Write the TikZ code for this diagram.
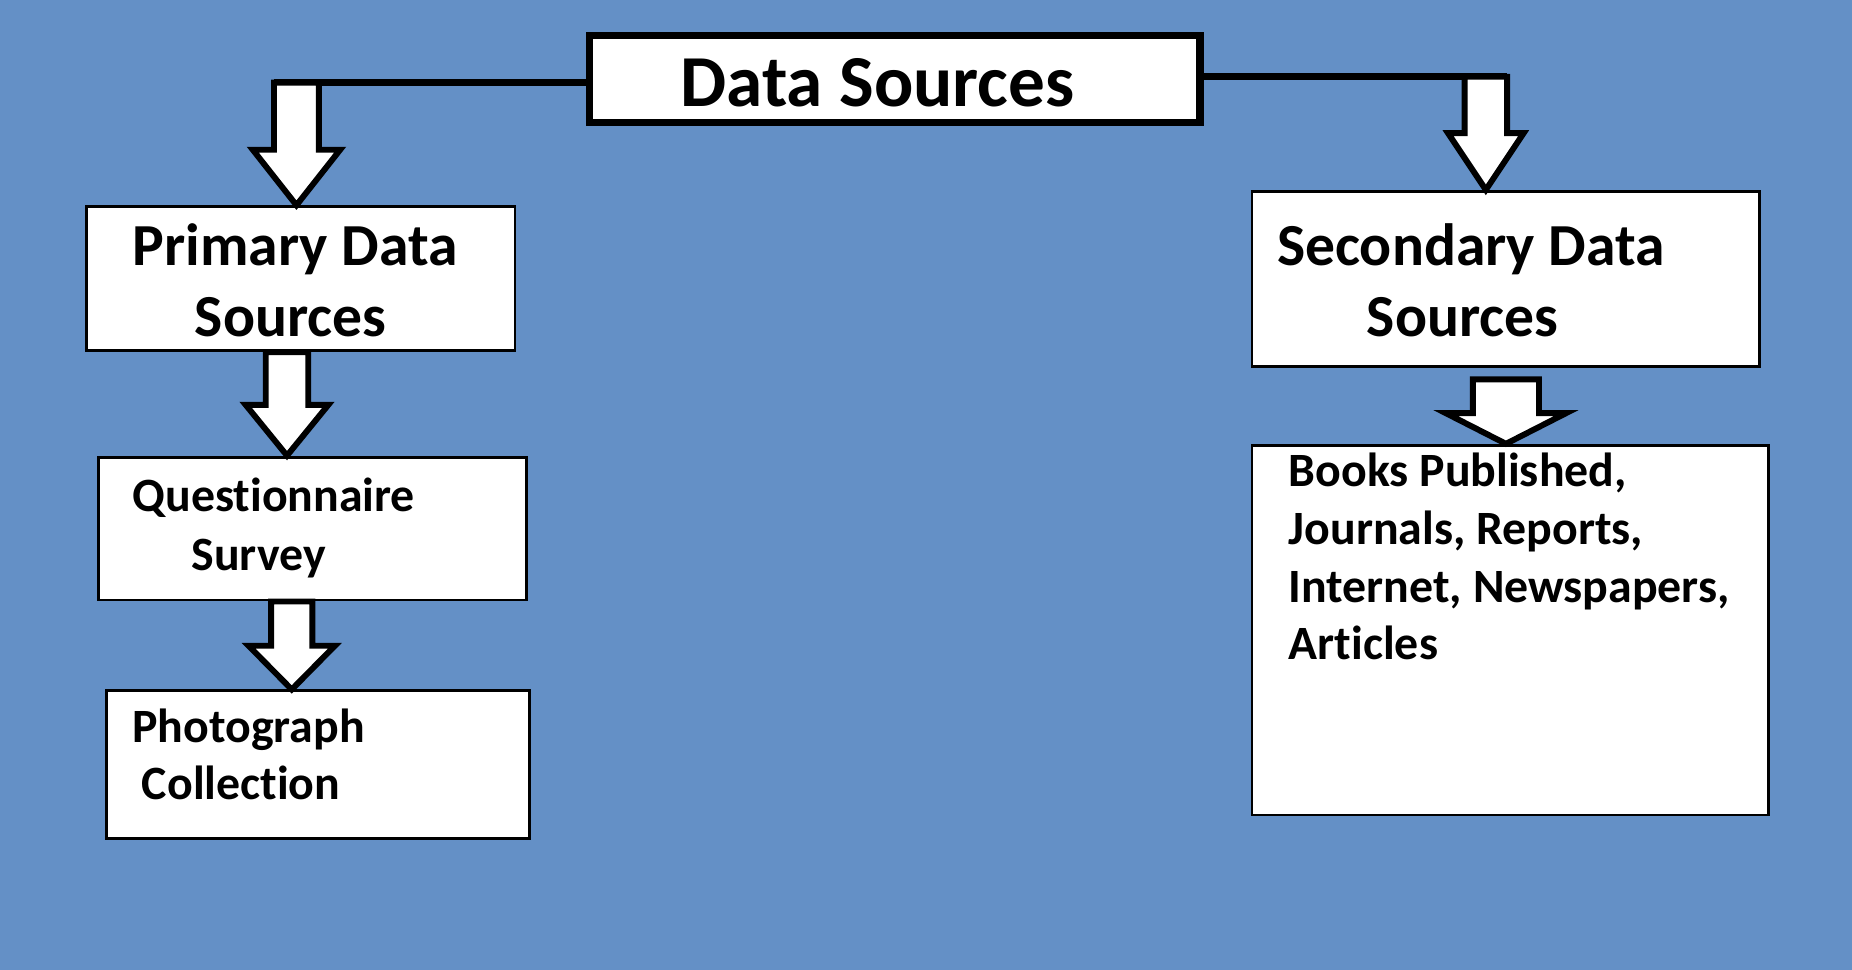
\documentclass[tikz,border=0pt]{standalone}
\usepackage{fontspec}
\setmainfont{Carlito}[Ligatures=NoCommon]
\usetikzlibrary{calc}
\definecolor{bgblue}{RGB}{100,144,198}
\tikzset{
  box/.style={draw=black, fill=white, line width=2.5pt, inner sep=0pt},
  bigbox/.style={draw=black, fill=white, line width=6pt, inner sep=0pt},
  txt/.style={inner sep=0pt, font=\bfseries\fontsize{40.5}{49}\selectfont},
  midtxt/.style={inner sep=0pt, font=\bfseries\fontsize{50.5}{60}\selectfont},
  toptxt/.style={inner sep=0pt, font=\bfseries\fontsize{62}{74}\selectfont},
  arrowline/.style={draw=black, fill=white, line width=5pt, line join=miter},
  joinline/.style={draw=black, line width=6pt}
}
% #1 x of the arrow axis, #2 top point, #3 tip point, #4 shaft half width, #5 head half width, #6 head length
\newcommand{\blockarrow}[6]{%
  \path[arrowline] let \p1=(#2), \p2=(#3) in
    (#1-#4,\y1) -- (#1+#4,\y1) -- (#1+#4,\y2+#6) -- (#1+#5,\y2+#6) --
    (#1,\y2) -- (#1-#5,\y2+#6) -- (#1-#4,\y2+#6) -- cycle;}
\begin{document}
\begin{tikzpicture}[x=1pt,y=-1pt]
\fill[bgblue] (0,0) rectangle (1568,821);
\useasboundingbox (0,0) rectangle (1568,821);

% boxes
\node[bigbox, minimum width=517pt, minimum height=74pt] (ds) at (757.5,67) {};
\node[box, minimum width=363pt, minimum height=122pt] (prim) at (254.5,236) {};
\node[box, minimum width=430pt, minimum height=148pt] (sec) at (1275,236) {};
\node[box, minimum width=363pt, minimum height=121pt] (quest) at (264.5,447.5) {};
\node[box, minimum width=358pt, minimum height=125pt] (photo) at (269,647.5) {};
\node[box, minimum width=437pt, minimum height=313pt] (books) at (1278.5,533.5) {};

% joints of the top connectors
\coordinate (jl) at (251,70);
\coordinate (jr) at (1258,65);
\draw[joinline] (ds.west |- jl) -- ($(jl)+(-19,0)$);
\draw[joinline] (ds.east |- jr) -- ($(jr)+(18,0)$);

% block arrows
\blockarrow{251}{jl}{jl |- prim.north}{19}{37}{47}
\blockarrow{1258}{jr}{jr |- sec.north}{18}{32}{48}
\blockarrow{243}{prim.south}{quest.north}{18}{35}{43}
\blockarrow{247}{quest.south}{photo.north}{17.5}{36.5}{37}
\blockarrow{1275}{$(sec.south)+(0,10)$}{books.north}{28}{51}{26}

% texts
\node[toptxt, anchor=base] (tds) at (743,90) {Data Sources};
\node[midtxt, anchor=base] (tp1) at (250,225) {Primary Data};
\node[midtxt, anchor=base] (tp2) at (246,285) {Sources};
\node[midtxt, anchor=base west] (ts1) at (1081,225) {Secondary Data};
\node[midtxt, anchor=base west] (ts2) at (1157,285) {Sources};
\node[txt, anchor=base west] (tq1) at (112,433) {Questionnaire};
\node[txt, anchor=base west] (tq2) at (162,483) {Survey};
\node[txt, anchor=base west] (tf1) at (112,629) {Photograph};
\node[txt, anchor=base west] (tf2) at (120,677) {Collection};
\node[txt, anchor=base west] (tb1) at (1091,412) {Books Published,};
\node[txt, anchor=base west] (tb2) at (1091,461) {Journals, Reports,};
\node[txt, anchor=base west] (tb3) at (1091,510) {Internet, Newspapers,};
\node[txt, anchor=base west] (tb4) at (1091,558) {Articles};
\end{tikzpicture}
\end{document}
